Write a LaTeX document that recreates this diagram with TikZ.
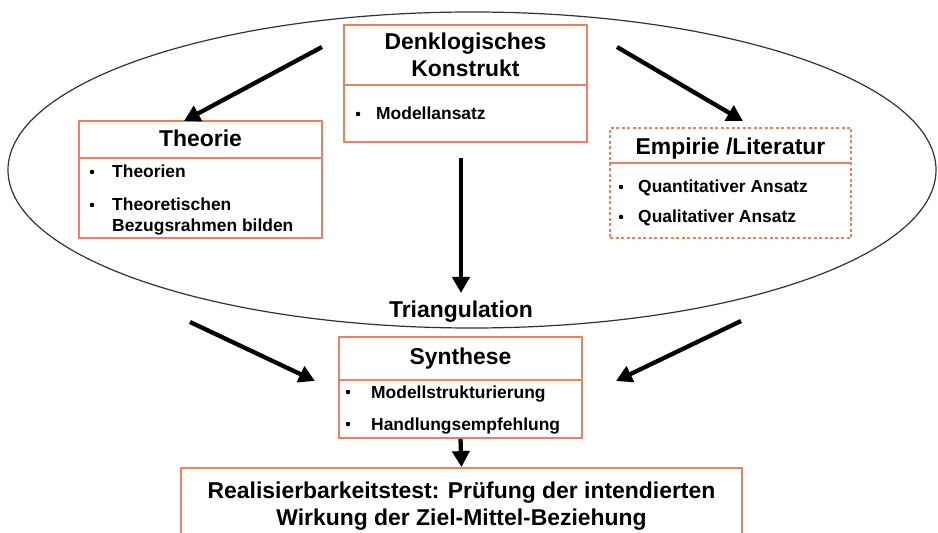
\documentclass[tikz,border=0pt]{standalone}
\usepackage{fontspec}
\setmainfont{Liberation Sans}
\usetikzlibrary{arrows.meta}
\definecolor{boxor}{RGB}{238,128,98}
\definecolor{ellc}{RGB}{50,50,50}
\tikzset{
  box/.style={draw=boxor, line width=1.8bp, fill=white, inner sep=0},
  dbox/.style={box, dash pattern=on 3bp off 2.5bp},
  div/.style={draw=boxor, line width=1.8bp},
  big/.style={font=\fontsize{23}{27}\selectfont\bfseries, inner sep=0, anchor=base},
  itm/.style={font=\fontsize{17.5}{21}\selectfont\bfseries, inner sep=0, anchor=base west},
  bul/.style={fill=black, rectangle, rounded corners=0.8bp, minimum size=4bp, inner sep=0},
  arr/.style={line width=4.3bp, -{Triangle[length=16bp,width=17bp]}},
}
\begin{document}
\begin{tikzpicture}[x=1bp,y=-1bp]
\useasboundingbox (0,0) rectangle (938,533);
\clip (0,0) rectangle (938,533);
% ellipse
\draw[ellc, line width=1.2bp] (472,170) ellipse [x radius=464bp, y radius=158bp];
% boxes
\node[box, minimum width=243bp, minimum height=117bp] (denk) at (465.5,83.5) {};
\node[box, minimum width=243bp, minimum height=117bp] (theo) at (200.5,179.5) {};
\node[dbox, minimum width=241bp, minimum height=110bp] (emp) at (730.5,183) {};
\node[box, minimum width=243bp, minimum height=101bp] (syn) at (460.5,387.5) {};
\node[box, minimum width=561bp, minimum height=80bp] (real) at (461.5,508) {};
% dividers
\draw[div] (denk.west |- 0,85) -- (denk.east |- 0,85);
\draw[div] (theo.west |- 0,158) -- (theo.east |- 0,158);
\draw[div] (emp.west |- 0,163) -- (emp.east |- 0,163);
\draw[div] (syn.west |- 0,380) -- (syn.east |- 0,380);
% titles
\node[big] (t1a) at (465.5,50) {Denklogisches};
\node[big] (t1b) at (465.5,77) {Konstrukt};
\node[big] (t2) at (200.5,147) {Theorie};
\node[big] (t3) at (730.5,155) {Empirie /Literatur};
\node[big] (t4) at (460.5,365) {Synthese};
\node[big] (tr) at (461,318) {Triangulation};
\node[big] (t5a) at (461.5,498) {Realisierbarkeitstest: Prüfung der intendierten};
\node[big] (t5b) at (461.5,525) {Wirkung der Ziel-Mittel-Beziehung};
% items
\node[bul] (b1) at (358,114) {};
\node[itm] (i1) at (376,120) {Modellansatz};
\node[bul] (b2) at (92,172) {};
\node[itm] (i2) at (112,178) {Theorien};
\node[bul] (b3) at (92,205) {};
\node[itm] (i3a) at (112,211) {Theoretischen};
\node[itm] (i3b) at (112,232) {Bezugsrahmen bilden};
\node[bul] (b4) at (621,187) {};
\node[itm] (i4) at (638,193) {Quantitativer Ansatz};
\node[bul] (b5) at (621,217) {};
\node[itm] (i5) at (638,223) {Qualitativer Ansatz};
\node[bul] (b6) at (348,392) {};
\node[itm] (i6) at (371,398) {Modellstrukturierung};
\node[bul] (b7) at (348,424) {};
\node[itm] (i7) at (371,430) {Handlungsempfehlung};
% arrow end points
\coordinate (a1s) at (322,47);
\coordinate (a1e) at (184,121);
\coordinate (a2s) at (617,47);
\coordinate (a2e) at (743,121);
\coordinate (a3s) at (461,158);
\coordinate (a3e) at (461,293);
\coordinate (a4s) at (190,322);
\coordinate (a4e) at (315,381);
\coordinate (a5s) at (741,321);
\coordinate (a5e) at (616,381);
\draw[arr] (a1s) -- (a1e);
\draw[arr] (a2s) -- (a2e);
\draw[arr] (a3s) -- (a3e);
\draw[arr] (a4s) -- (a4e);
\draw[arr] (a5s) -- (a5e);
\draw[arr] (syn.south) -- (real.north);
\end{tikzpicture}
\end{document}
